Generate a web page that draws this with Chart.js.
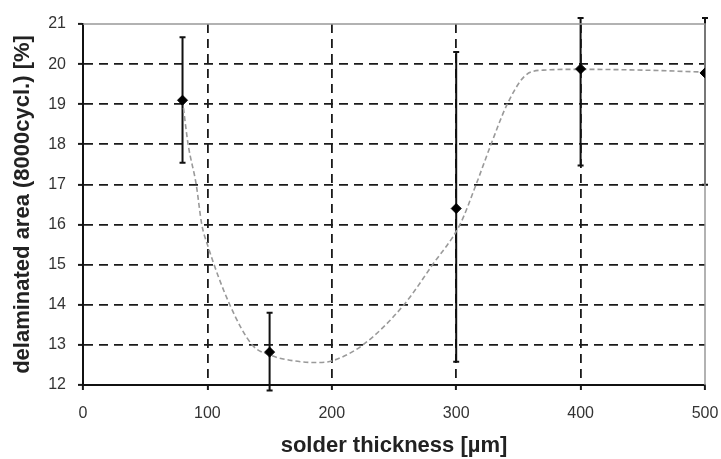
<!DOCTYPE html>
<html>
<head>
<meta charset="utf-8">
<script src="https://cdn.jsdelivr.net/npm/chart.js@4.4.1/dist/chart.umd.min.js"></script>
<style>
  html, body { margin: 0; padding: 0; background: #fff; }
  #wrap { width: 721px; height: 459px; }
</style>
</head>
<body>
<div id="wrap"><canvas id="delamChart"></canvas></div>
<script>
"use strict";

// measured points with min/max spread
const thickness = [80, 150, 300, 400, 500];
const delaminated = [19.1, 12.82, 16.4, 19.88, 19.78];
const errLow = [17.54, 11.86, 12.58, 17.47, 16.99];
const errHigh = [20.67, 13.8, 20.3, 21.15, 21.15];

// hand-fitted trend curve
const fitX = [80, 84.5, 91, 95.5, 100, 118, 136, 150, 170, 188, 200, 225, 258, 281, 303, 316, 328, 341, 355, 370, 400, 450, 500];
const fitY = [19.1, 18, 17, 16, 15.5, 14, 13, 12.75, 12.6, 12.56, 12.6, 13, 14, 15, 16, 17, 18, 19, 19.7, 19.85, 19.87, 19.85, 19.8];

const xTicks = [0, 100, 200, 300, 400, 500];

const fontFamily = "'Liberation Sans', Arial, sans-serif";

// vertical bars with caps, drawn under the markers
const errorBars = {
  id: 'errorBars',
  beforeDatasetsDraw(chart) {
    const ctx = chart.ctx;
    const xs = chart.scales.x;
    const ys = chart.scales.y;
    ctx.save();
    ctx.strokeStyle = '#111';
    ctx.lineWidth = 2;
    thickness.forEach((t, i) => {
      const px = xs.getPixelForValue(t);
      const top = ys.getPixelForValue(errHigh[i]);
      const bot = ys.getPixelForValue(errLow[i]);
      ctx.beginPath();
      ctx.moveTo(px, top);
      ctx.lineTo(px, bot);
      ctx.moveTo(px - 3, top);
      ctx.lineTo(px + 3, top);
      ctx.moveTo(px - 3, bot);
      ctx.lineTo(px + 3, bot);
      ctx.stroke();
    });
    ctx.restore();
  }
};

// thin gray frame on the top and right side of the plot
const plotFrame = {
  id: 'plotFrame',
  beforeDatasetsDraw(chart) {
    const { ctx, chartArea: a } = chart;
    ctx.save();
    ctx.strokeStyle = '#999';
    ctx.lineWidth = 1.5;
    ctx.beginPath();
    ctx.moveTo(a.left, a.top);
    ctx.lineTo(a.right, a.top);
    ctx.lineTo(a.right, a.bottom);
    ctx.stroke();
    ctx.restore();
  }
};

const edgeless = (lo, hi) => (c) =>
  (c.tick && (c.tick.value === lo || c.tick.value === hi)) ? 'rgba(0,0,0,0)' : '#1a1a1a';

new Chart(document.getElementById('delamChart'), {
  type: 'scatter',
  data: {
    datasets: [
      {
        label: 'measured',
        data: thickness.map((t, i) => ({ x: t, y: delaminated[i] })),
        pointStyle: 'rectRot',
        pointRadius: 5,
        backgroundColor: '#000',
        borderColor: '#000',
        borderWidth: 1,
        order: 0
      },
      {
        label: 'fit',
        type: 'line',
        data: fitX.map((t, i) => ({ x: t, y: fitY[i] })),
        showLine: true,
        borderColor: '#9a9a9a',
        borderWidth: 1.6,
        borderDash: [5, 3],
        pointRadius: 0,
        cubicInterpolationMode: 'monotone',
        fill: false,
        order: 1
      }
    ]
  },
  plugins: [errorBars, plotFrame],
  options: {
    responsive: true,
    maintainAspectRatio: false,
    animation: false,
    layout: { padding: { left: 0, top: 24, right: 16, bottom: 0 } },
    plugins: {
      legend: { display: false },
      tooltip: { enabled: false }
    },
    scales: {
      x: {
        type: 'linear',
        min: 0,
        max: 500,
        afterBuildTicks: (s) => { s.ticks = xTicks.map(v => ({ value: v })); },
        afterFit: (s) => {
          s.height = 74;
          s.paddingLeft = 0;
          s.paddingRight = 0;
        },
        ticks: {
          color: '#333',
          padding: 14,
          font: { family: fontFamily, size: 16 }
        },
        grid: {
          color: edgeless(0, 500),
          lineWidth: 1.8,
          tickColor: '#1a1a1a',
          tickLength: 5,
          tickWidth: 2
        },
        border: { display: true, color: '#111', width: 2, dash: [9, 6] },
        title: {
          display: true,
          text: 'solder thickness [µm]',
          color: '#222',
          font: { family: fontFamily, size: 22, weight: 'bold' },
          padding: { top: 0, bottom: 0 }
        }
      },
      y: {
        min: 12,
        max: 21,
        afterFit: (s) => {
          s.width = 83;
          s.paddingTop = 0;
          s.paddingBottom = 0;
        },
        ticks: {
          stepSize: 1,
          color: '#333',
          padding: 12,
          font: { family: fontFamily, size: 16 }
        },
        grid: {
          color: edgeless(12, 21),
          lineWidth: 1.8,
          tickColor: '#1a1a1a',
          tickLength: 5,
          tickWidth: 2
        },
        border: { display: true, color: '#111', width: 2, dash: [9, 6] },
        title: {
          display: true,
          text: 'delaminated area (8000cycl.) [%]',
          color: '#222',
          font: { family: fontFamily, size: 22, weight: 'bold' },
          padding: { top: 10, bottom: 0 }
        }
      }
    }
  }
});
</script>
</body>
</html>
